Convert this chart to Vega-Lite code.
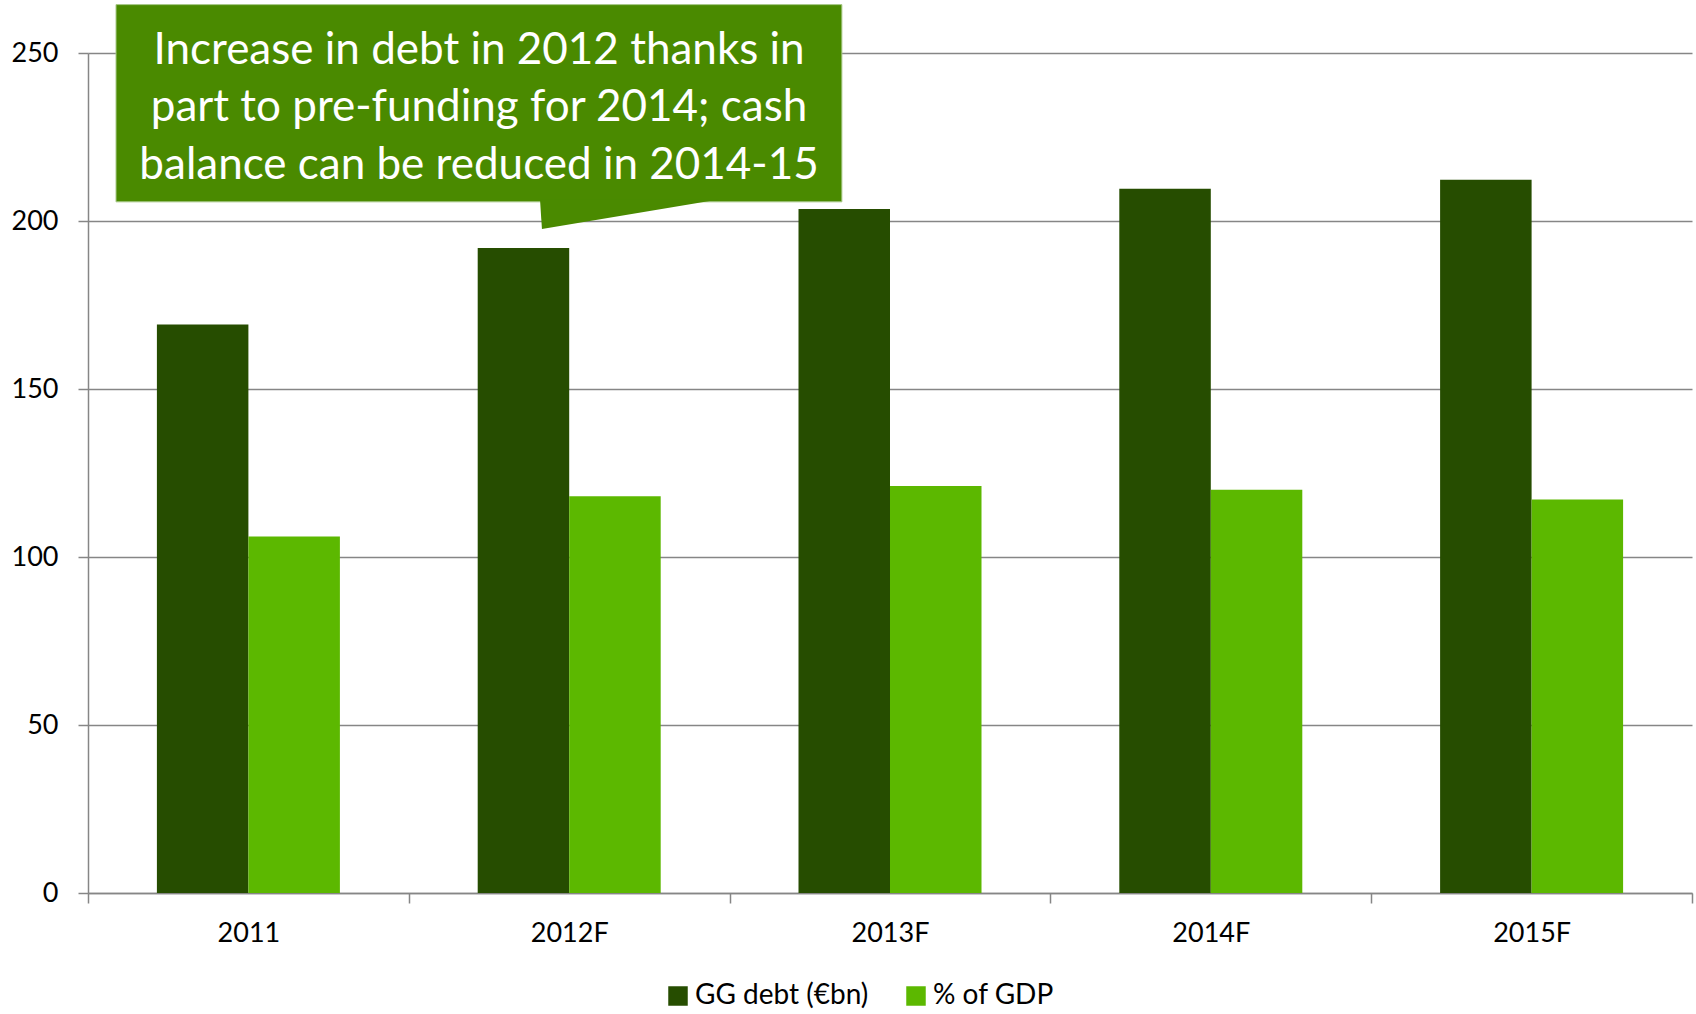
{
  "$schema": "https://vega.github.io/schema/vega-lite/v6.json",
  "width": 1604,
  "height": 840,
  "autosize": {"type": "none"},
  "padding": {"left": 88, "top": 53, "right": 4, "bottom": 121},
  "config": {"font": "Lato", "view": {"stroke": null}},
  "datasets": {
    "bars": [
      {"year": "2011", "series": "GG debt (€bn)", "value": 169.2},
      {"year": "2011", "series": "% of GDP", "value": 106.1},
      {"year": "2012F", "series": "GG debt (€bn)", "value": 192.0},
      {"year": "2012F", "series": "% of GDP", "value": 118.1},
      {"year": "2013F", "series": "GG debt (€bn)", "value": 203.6},
      {"year": "2013F", "series": "% of GDP", "value": 121.1},
      {"year": "2014F", "series": "GG debt (€bn)", "value": 209.6},
      {"year": "2014F", "series": "% of GDP", "value": 120.0},
      {"year": "2015F", "series": "GG debt (€bn)", "value": 212.3},
      {"year": "2015F", "series": "% of GDP", "value": 117.1}
    ],
    "box": [{"x0": 0.0873, "x1": 2.35, "y0": 205.7, "y1": 264.4}],
    "pointer": [
      {"px": 1.409, "ytop": 206.5, "ybot": 206.5},
      {"px": 1.415, "ytop": 206.5, "ybot": 197.6},
      {"px": 1.97, "ytop": 206.5, "ybot": 206.5}
    ],
    "note": [
      {"cx": 1.219, "cy": 250.7, "label": ["Increase in debt in 2012 thanks in", "part to pre-funding for 2014; cash", "balance can be reduced in 2014-15"]}
    ]
  },
  "layer": [
    {
      "data": {"name": "bars"},
      "mark": {"type": "bar"},
      "encoding": {
        "x": {
          "field": "year", "type": "nominal", "sort": null,
          "scale": {"paddingInner": 0, "paddingOuter": 0},
          "axis": {"title": null, "tickBand": "extent", "labelAngle": 0, "labelFontSize": 27, "labelColor": "#000000",
                   "domainColor": "#868686", "domainWidth": 1.5, "tickColor": "#868686", "tickWidth": 1.5, "tickSize": 10, "labelPadding": 17}
        },
        "xOffset": {"field": "series", "type": "nominal", "sort": ["GG debt (€bn)", "% of GDP"], "scale": {"paddingInner": 0, "paddingOuter": 0.753}},
        "y": {
          "field": "value", "type": "quantitative",
          "scale": {"domain": [0, 250], "nice": false},
          "axis": {"title": null, "values": [0, 50, 100, 150, 200, 250], "grid": true, "gridColor": "#868686", "gridWidth": 1.5,
                   "domainColor": "#868686", "domainWidth": 1.5, "tickColor": "#868686", "tickWidth": 1.5, "tickSize": 10,
                   "labelFontSize": 27, "labelPadding": 20, "labelColor": "#000000"}
        },
        "color": {
          "field": "series", "type": "nominal", "sort": ["GG debt (€bn)", "% of GDP"],
          "scale": {"domain": ["GG debt (€bn)", "% of GDP"], "range": ["#264D00", "#5CB800"]},
          "legend": {"title": null, "orient": "none", "legendX": 576, "legendY": 929, "direction": "horizontal", "symbolType": "square", "symbolSize": 380,
                     "symbolStrokeWidth": 0, "labelFontSize": 28, "labelLimit": 0, "labelColor": "#000000", "columnPadding": 33, "labelOffset": 3}
        }
      }
    },
    {
      "layer": [
        {
          "data": {"name": "box"},
          "mark": {"type": "rect", "color": "#4A8A00", "stroke": "#A9C98A", "strokeWidth": 1},
          "encoding": {
            "x": {"field": "x0", "type": "quantitative", "scale": {"domain": [0, 5], "nice": false, "zero": false}, "axis": null},
            "x2": {"field": "x1"},
            "y": {"field": "y0", "type": "quantitative", "scale": {"domain": [0, 250], "nice": false}, "axis": null},
            "y2": {"field": "y1"}
          }
        },
        {
          "data": {"name": "pointer"},
          "mark": {"type": "area", "color": "#4A8A00"},
          "encoding": {
            "x": {"field": "px", "type": "quantitative", "scale": {"domain": [0, 5], "nice": false, "zero": false}, "axis": null},
            "y": {"field": "ytop", "type": "quantitative", "scale": {"domain": [0, 250], "nice": false}, "axis": null},
            "y2": {"field": "ybot"}
          }
        },
        {
          "data": {"name": "note"},
          "mark": {"type": "text", "fontSize": 44, "color": "#FFFFFF", "lineHeight": 57.5, "align": "center", "baseline": "middle"},
          "encoding": {
            "x": {"field": "cx", "type": "quantitative", "scale": {"domain": [0, 5], "nice": false, "zero": false}, "axis": null},
            "y": {"field": "cy", "type": "quantitative", "scale": {"domain": [0, 250], "nice": false}, "axis": null},
            "text": {"field": "label"}
          }
        }
      ]
    }
  ],
  "resolve": {"scale": {"x": "independent", "y": "independent"}}
}
